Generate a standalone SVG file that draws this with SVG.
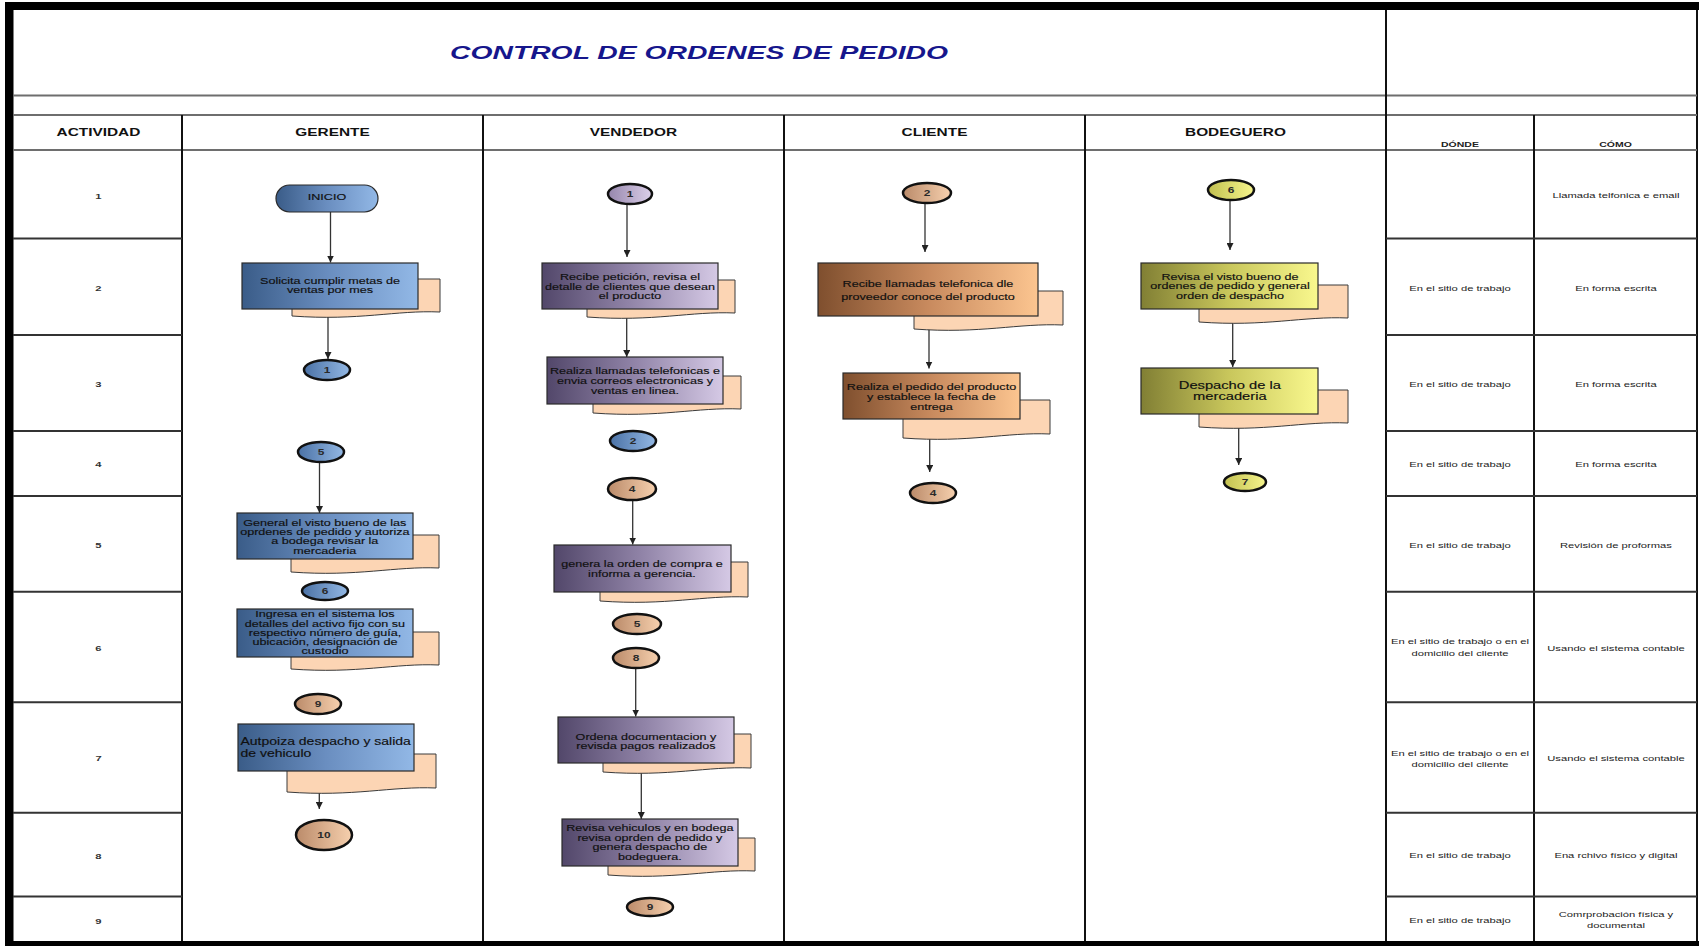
<svg xmlns="http://www.w3.org/2000/svg" width="1699" height="946" viewBox="0 0 1699 946">
<style>
.frame{fill:#000}
.hl{stroke:#6e6e6e;stroke-width:2.2;fill:none}
.vl{stroke:#111;stroke-width:2;fill:none}
.rl{stroke:#333;stroke-width:2;fill:none}
.sx{transform-box:fill-box;transform-origin:center;transform:scaleX(1.4)}
.sl{transform-box:fill-box;transform-origin:left center;transform:scaleX(1.4)}
.hd{font-family:"Liberation Sans",Arial,sans-serif;font-weight:bold;font-size:11px;fill:#111;text-anchor:middle}
.hs{font-family:"Liberation Sans",Arial,sans-serif;font-weight:bold;font-size:7.5px;fill:#222;text-anchor:middle}
.num{font-family:"Liberation Sans",Arial,sans-serif;font-weight:bold;font-size:8px;fill:#333;text-anchor:middle}
.ct{font-family:"Liberation Sans",Arial,sans-serif;font-size:8px;fill:#222;text-anchor:middle}
.nt{font-family:"Liberation Sans",Arial,sans-serif;font-size:9px;fill:#101010;stroke:#101010;stroke-width:0.15;text-anchor:middle}
.nl{font-family:"Liberation Sans",Arial,sans-serif;font-size:10px;fill:#101010;stroke:#101010;stroke-width:0.15}
.big{font-size:10.5px}
.cnt{font-family:"Liberation Sans",Arial,sans-serif;font-weight:bold;font-size:8.5px;fill:#2a2a2a;text-anchor:middle}
.doc{fill:#fcd5b4;stroke:#3a3a3a;stroke-width:1}
.box{stroke:#2a2a2a;stroke-width:1.2}
.cn{stroke:#111;stroke-width:2.5}
.cl{stroke:#333;stroke-width:1.3;fill:none;marker-end:url(#ah)}
</style>
<defs>
<marker id="ah" viewBox="0 0 8 8" refX="8" refY="4" markerWidth="7" markerHeight="7" markerUnits="userSpaceOnUse" orient="auto"><path d="M0,0 L8,4 L0,8 Z" fill="#222"/></marker>
<linearGradient id="gB" x1="0" y1="0" x2="1" y2="0"><stop offset="0" stop-color="#3a5c88"/><stop offset="0.5" stop-color="#6a8ec0"/><stop offset="1" stop-color="#92b8e6"/></linearGradient>
<linearGradient id="gL" x1="0" y1="0" x2="1" y2="0"><stop offset="0" stop-color="#52476a"/><stop offset="0.5" stop-color="#9184a8"/><stop offset="1" stop-color="#d5c9e5"/></linearGradient>
<linearGradient id="gO" x1="0" y1="0" x2="1" y2="0"><stop offset="0" stop-color="#7f4f2e"/><stop offset="0.5" stop-color="#c88a5e"/><stop offset="1" stop-color="#fcc590"/></linearGradient>
<linearGradient id="gY" x1="0" y1="0" x2="1" y2="0"><stop offset="0" stop-color="#817f34"/><stop offset="0.5" stop-color="#c9c75c"/><stop offset="1" stop-color="#f9f88e"/></linearGradient>
<linearGradient id="cB" x1="0" y1="0" x2="1" y2="0"><stop offset="0" stop-color="#4b72a6"/><stop offset="1" stop-color="#93b8e4"/></linearGradient>
<linearGradient id="cP" x1="0" y1="0" x2="1" y2="0"><stop offset="0" stop-color="#bb8b6a"/><stop offset="1" stop-color="#f6d0ae"/></linearGradient>
<linearGradient id="cL" x1="0" y1="0" x2="1" y2="0"><stop offset="0" stop-color="#9686ac"/><stop offset="1" stop-color="#dcd0ea"/></linearGradient>
<linearGradient id="cY" x1="0" y1="0" x2="1" y2="0"><stop offset="0" stop-color="#c2c050"/><stop offset="1" stop-color="#f6f58c"/></linearGradient>
</defs>
<rect width="1699" height="946" fill="#fff"/>

<g id="grid">
<rect class="frame" x="5" y="2" width="1694" height="8"/>
<rect class="frame" x="5" y="2" width="8.5" height="944"/>
<rect class="frame" x="5" y="941" width="1694" height="5"/>
<line class="vl" x1="1697" y1="10" x2="1697" y2="941"/>
<line class="hl" x1="13" y1="95.5" x2="1697" y2="95.5"/>
<line class="hl" x1="13" y1="115" x2="1697" y2="115"/>
<line class="hl" x1="13" y1="150" x2="1697" y2="150"/>
<line class="vl" x1="182" y1="115" x2="182" y2="941"/>
<line class="vl" x1="483" y1="115" x2="483" y2="941"/>
<line class="vl" x1="784" y1="115" x2="784" y2="941"/>
<line class="vl" x1="1085" y1="115" x2="1085" y2="941"/>
<line class="vl" x1="1386" y1="10" x2="1386" y2="941"/>
<line class="vl" x1="1534" y1="115" x2="1534" y2="941"/>
<path class="rl" d="M13,238.5H182M13,335H182M13,431H182M13,496H182M13,591.7H182M13,702.2H182M13,812.7H182M13,896.5H182"/>
<path class="rl" d="M1386,238.5H1697M1386,335H1697M1386,431H1697M1386,496H1697M1386,591.7H1697M1386,702.2H1697M1386,812.7H1697M1386,896.5H1697"/>
</g>

<g id="title">
<text x="699" y="59" textLength="498" lengthAdjust="spacingAndGlyphs" style="font-family:'Liberation Sans',Arial,sans-serif;font-weight:bold;font-style:italic;font-size:19px;fill:#16168c;text-anchor:middle">CONTROL DE ORDENES DE PEDIDO</text>
</g>

<g id="headers">
<text class="hd sx" x="98.5" y="136">ACTIVIDAD</text>
<text class="hd sx" x="332.5" y="136">GERENTE</text>
<text class="hd sx" x="633.5" y="136">VENDEDOR</text>
<text class="hd sx" x="934.5" y="136">CLIENTE</text>
<text class="hd sx" x="1235.5" y="136">BODEGUERO</text>
<text class="hs sx" x="1460" y="147">DÓNDE</text>
<text class="hs sx" x="1615.5" y="147">CÓMO</text>
</g>

<g id="activity-numbers">
<text class="num sx" x="98.5" y="198.6">1</text>
<text class="num sx" x="98.5" y="291.2">2</text>
<text class="num sx" x="98.5" y="387.2">3</text>
<text class="num sx" x="98.5" y="467.2">4</text>
<text class="num sx" x="98.5" y="548">5</text>
<text class="num sx" x="98.5" y="650.6">6</text>
<text class="num sx" x="98.5" y="760.6">7</text>
<text class="num sx" x="98.5" y="858.6">8</text>
<text class="num sx" x="98.5" y="924">9</text>
</g>

<g id="donde-como">
<text class="ct sx" x="1616" y="198">Llamada telfonica e email</text>
<text class="ct sx" x="1460" y="290.6">En el sitio de trabajo</text>
<text class="ct sx" x="1616" y="290.6">En forma escrita</text>
<text class="ct sx" x="1460" y="386.6">En el sitio de trabajo</text>
<text class="ct sx" x="1616" y="386.6">En forma escrita</text>
<text class="ct sx" x="1460" y="466.6">En el sitio de trabajo</text>
<text class="ct sx" x="1616" y="466.6">En forma escrita</text>
<text class="ct sx" x="1460" y="547.6">En el sitio de trabajo</text>
<text class="ct sx" x="1616" y="547.6">Revisión de proformas</text>
<text class="ct sx" x="1460" y="644.2">En el sitio de trabajo o en el<tspan x="1460" y="656.2">domicilio del cliente</tspan></text>
<text class="ct sx" x="1616" y="651.2">Usando el sistema contable</text>
<text class="ct sx" x="1460" y="755.6">En el sitio de trabajo o en el<tspan x="1460" y="766.9">domicilio del cliente</tspan></text>
<text class="ct sx" x="1616" y="761.2">Usando el sistema contable</text>
<text class="ct sx" x="1460" y="857.9">En el sitio de trabajo</text>
<text class="ct sx" x="1616" y="857.9">Ena rchivo físico y digital</text>
<text class="ct sx" x="1460" y="922.9">En el sitio de trabajo</text>
<text class="ct sx" x="1616" y="917.2">Comrprobación física y<tspan x="1616" y="927.9">documental</tspan></text>
</g>

<g id="connectors">
<line class="cl" x1="330.5" y1="212" x2="330.5" y2="262.5"/>
<line class="cl" x1="328" y1="309" x2="328" y2="359"/>
<line class="cl" x1="319.5" y1="462" x2="319.5" y2="513"/>
<line class="cl" x1="319.3" y1="771" x2="319.3" y2="809"/>
<line class="cl" x1="627" y1="204" x2="627" y2="257"/>
<line class="cl" x1="626.7" y1="309" x2="626.7" y2="357"/>
<line class="cl" x1="632.7" y1="500" x2="632.7" y2="544.5"/>
<line class="cl" x1="635.7" y1="668" x2="635.7" y2="716.5"/>
<line class="cl" x1="641.3" y1="763" x2="641.3" y2="819"/>
<line class="cl" x1="925" y1="203.5" x2="925" y2="252"/>
<line class="cl" x1="929" y1="316" x2="929" y2="368.5"/>
<line class="cl" x1="929.7" y1="419.5" x2="929.7" y2="472"/>
<line class="cl" x1="1230" y1="200.5" x2="1230" y2="250"/>
<line class="cl" x1="1232.7" y1="309.5" x2="1232.7" y2="367"/>
<line class="cl" x1="1238.7" y1="414.5" x2="1238.7" y2="465"/>
</g>

<g id="g-inicio">
<rect x="276" y="185" width="102" height="27" rx="13.5" fill="url(#gB)" class="box"/>
<text class="nt sx" x="327" y="200.5">INICIO</text>
</g>
<g id="g-solicita">
<path class="doc" d="M292,279H440V312C396,310 359,321 292,316Z"/>
<rect x="242" y="263" width="176" height="46" fill="url(#gB)" class="box"/>
<text class="nt sx" x="330" y="284">Solicita cumplir metas de<tspan x="330" y="293.5">ventas por mes</tspan></text>
</g>
<g id="g-c1">
<ellipse class="cn" cx="327" cy="370" rx="23" ry="10" fill="url(#cB)"/>
<text class="cnt sx" x="327" y="373">1</text>
</g>
<g id="g-c5">
<ellipse class="cn" cx="321" cy="452" rx="23" ry="10" fill="url(#cB)"/>
<text class="cnt sx" x="321" y="455">5</text>
</g>
<g id="g-general">
<path class="doc" d="M291,535H439V568C395,566 358,577 291,572Z"/>
<rect x="237" y="513" width="176" height="46" fill="url(#gB)" class="box"/>
<text class="nt sx" x="325" y="526">General el visto bueno de las<tspan x="325" y="535.2">oprdenes de pedido y autoriza</tspan><tspan x="325" y="544.4">a bodega revisar la</tspan><tspan x="325" y="553.6">mercaderia</tspan></text>
</g>
<g id="g-c6">
<ellipse class="cn" cx="325" cy="591" rx="23" ry="9" fill="url(#cB)"/>
<text class="cnt sx" x="325" y="594">6</text>
</g>
<g id="g-ingresa">
<path class="doc" d="M291,632H439V665C395,663 358,674 291,669Z"/>
<rect x="237" y="609" width="176" height="48" fill="url(#gB)" class="box"/>
<text class="nt sx" x="325" y="617.5">Ingresa en el sistema los<tspan x="325" y="626.7">detalles del activo fijo con su</tspan><tspan x="325" y="636">respectivo número de guía,</tspan><tspan x="325" y="645.4">ubicación, designación de</tspan><tspan x="325" y="654.5">custodio</tspan></text>
</g>
<g id="g-c9a">
<ellipse class="cn" cx="318" cy="704" rx="23" ry="10" fill="url(#cP)"/>
<text class="cnt sx" x="318" y="707">9</text>
</g>
<g id="g-autpoiza">
<path class="doc" d="M287,754H436V788C391,786 354,797 287,792Z"/>
<rect x="238" y="724" width="176" height="47" fill="url(#gB)" class="box"/>
<text class="nl sl" x="240.5" y="745.5">Autpoiza despacho y salida<tspan x="240.5" y="757">de vehiculo</tspan></text>
</g>
<g id="g-c10">
<ellipse class="cn" cx="324" cy="835" rx="28" ry="15" fill="url(#cP)"/>
<text class="cnt sx" x="324" y="838">10</text>
</g>

<g id="v-c1">
<ellipse class="cn" cx="630" cy="194" rx="22" ry="10" fill="url(#cL)"/>
<text class="cnt sx" x="630" y="197">1</text>
</g>
<g id="v-recibe">
<path class="doc" d="M587,280H735V313C691,311 654,322 587,317Z"/>
<rect x="542" y="263" width="176" height="46" fill="url(#gL)" class="box"/>
<text class="nt sx" x="630" y="280.5">Recibe petición, revisa el<tspan x="630" y="290">detalle de clientes que desean</tspan><tspan x="630" y="299.3">el producto</tspan></text>
</g>
<g id="v-realiza">
<path class="doc" d="M593,376H741V409C697,407 660,418 593,413Z"/>
<rect x="547" y="357" width="176" height="47" fill="url(#gL)" class="box"/>
<text class="nt sx" x="635" y="374">Realiza llamadas telefonicas e<tspan x="635" y="384">envia correos electronicas y</tspan><tspan x="635" y="394">ventas en linea.</tspan></text>
</g>
<g id="v-c2">
<ellipse class="cn" cx="633" cy="441" rx="23" ry="10" fill="url(#cB)"/>
<text class="cnt sx" x="633" y="444">2</text>
</g>
<g id="v-c4">
<ellipse class="cn" cx="632" cy="489" rx="24" ry="11" fill="url(#cP)"/>
<text class="cnt sx" x="632" y="492">4</text>
</g>
<g id="v-genera">
<path class="doc" d="M600,562H748V597C704,595 667,606 600,601Z"/>
<rect x="554" y="545" width="177" height="47" fill="url(#gL)" class="box"/>
<text class="nt sx" x="642" y="567.5">genera la orden de compra e<tspan x="642" y="577.5">informa a gerencia.</tspan></text>
</g>
<g id="v-c5">
<ellipse class="cn" cx="637" cy="624" rx="24" ry="10" fill="url(#cP)"/>
<text class="cnt sx" x="637" y="627">5</text>
</g>
<g id="v-c8">
<ellipse class="cn" cx="636" cy="658" rx="23" ry="10" fill="url(#cP)"/>
<text class="cnt sx" x="636" y="661">8</text>
</g>
<g id="v-ordena">
<path class="doc" d="M603,734H751V768C707,766 670,777 603,772Z"/>
<rect x="558" y="717" width="176" height="46" fill="url(#gL)" class="box"/>
<text class="nt sx" x="646" y="740">Ordena documentacion y<tspan x="646" y="749.5">revisda pagos realizados</tspan></text>
</g>
<g id="v-revisa">
<path class="doc" d="M608,838H755V871C711,869 674,880 608,875Z"/>
<rect x="562" y="819" width="176" height="47" fill="url(#gL)" class="box"/>
<text class="nt sx" x="650" y="831.5">Revisa vehiculos y en bodega<tspan x="650" y="841">revisa oprden de pedido y</tspan><tspan x="650" y="850.5">genera despacho de</tspan><tspan x="650" y="860.3">bodeguera.</tspan></text>
</g>
<g id="v-c9">
<ellipse class="cn" cx="650" cy="907" rx="23" ry="9" fill="url(#cP)"/>
<text class="cnt sx" x="650" y="910">9</text>
</g>

<g id="c-c2">
<ellipse class="cn" cx="927" cy="193" rx="24" ry="10" fill="url(#cP)"/>
<text class="cnt sx" x="927" y="196">2</text>
</g>
<g id="c-recibe">
<path class="doc" d="M914,291H1063V325C1018,323 981,334 914,329Z"/>
<rect x="818" y="263" width="220" height="53" fill="url(#gO)" class="box"/>
<text class="nt sx" x="928" y="287.2">Recibe llamadas telefonica dle<tspan x="928" y="300">proveedor conoce del producto</tspan></text>
</g>
<g id="c-realiza">
<path class="doc" d="M903,400H1050V434C1006,432 969,443 903,438Z"/>
<rect x="843" y="373" width="177" height="46" fill="url(#gO)" class="box"/>
<text class="nt sx" x="931.5" y="390.5">Realiza el pedido del producto<tspan x="931.5" y="400.3">y establece la fecha de</tspan><tspan x="931.5" y="410">entrega</tspan></text>
</g>
<g id="c-c4">
<ellipse class="cn" cx="933" cy="493" rx="23" ry="10" fill="url(#cP)"/>
<text class="cnt sx" x="933" y="496">4</text>
</g>

<g id="b-c6">
<ellipse class="cn" cx="1231" cy="190" rx="23" ry="10" fill="url(#cY)"/>
<text class="cnt sx" x="1231" y="193">6</text>
</g>
<g id="b-revisa">
<path class="doc" d="M1199,285H1348V318C1303,316 1266,327 1199,322Z"/>
<rect x="1141" y="263" width="177" height="46" fill="url(#gY)" class="box"/>
<text class="nt sx" x="1230" y="280">Revisa el visto bueno de<tspan x="1230" y="289.4">ordenes de pedido y general</tspan><tspan x="1230" y="299">orden de despacho</tspan></text>
</g>
<g id="b-despacho">
<path class="doc" d="M1199,390H1348V423C1303,421 1266,432 1199,427Z"/>
<rect x="1141" y="368" width="177" height="46" fill="url(#gY)" class="box"/>
<text class="nt big sx" x="1230" y="389">Despacho de la<tspan x="1230" y="400">mercaderia</tspan></text>
</g>
<g id="b-c7">
<ellipse class="cn" cx="1245" cy="482" rx="21" ry="9" fill="url(#cY)"/>
<text class="cnt sx" x="1245" y="485">7</text>
</g>
</svg>
